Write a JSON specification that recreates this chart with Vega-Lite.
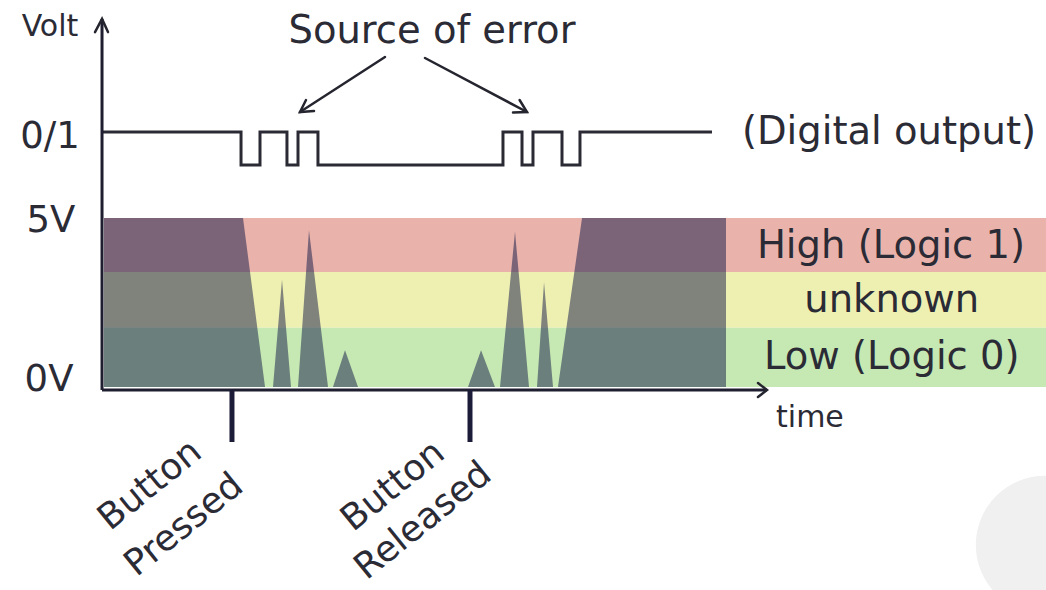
{
  "$schema": "https://vega.github.io/schema/vega-lite/v6.json",
  "width": 1046,
  "height": 590,
  "padding": 0,
  "autosize": {"type": "none"},
  "background": "#ffffff",
  "config": {"view": {"stroke": null}},
  "datasets": {
    "circle": [{"t": 151.6, "v": -4.67}],
    "bands": [
      {"zone": "high", "t": -0.16, "t2": 152, "v": 3.4, "v2": 5.0},
      {"zone": "unknown", "t": -0.16, "t2": 152, "v": 1.75, "v2": 3.4},
      {"zone": "low", "t": -0.16, "t2": 152, "v": 0, "v2": 1.75}
    ],
    "analog": [
      {"t": -0.16, "v": 5},
      {"t": 22.26, "v": 5},
      {"t": 25.81, "v": 0},
      {"t": 27.10, "v": 0},
      {"t": 28.55, "v": 3.17},
      {"t": 30.0, "v": 0},
      {"t": 31.13, "v": 0},
      {"t": 32.90, "v": 4.64},
      {"t": 35.97, "v": 0},
      {"t": 36.77, "v": 0},
      {"t": 38.71, "v": 1.09},
      {"t": 40.81, "v": 0},
      {"t": 58.55, "v": 0},
      {"t": 60.65, "v": 1.09},
      {"t": 62.90, "v": 0},
      {"t": 63.71, "v": 0},
      {"t": 66.13, "v": 4.59},
      {"t": 68.39, "v": 0},
      {"t": 69.68, "v": 0},
      {"t": 70.81, "v": 3.10},
      {"t": 72.26, "v": 0},
      {"t": 73.06, "v": 0},
      {"t": 76.94, "v": 5},
      {"t": 100.16, "v": 5}
    ],
    "digital": [
      {"t": -0.32, "v": 7.544},
      {"t": 21.94, "v": 6.568},
      {"t": 25.0, "v": 7.544},
      {"t": 29.35, "v": 6.568},
      {"t": 31.13, "v": 7.544},
      {"t": 34.35, "v": 6.568},
      {"t": 64.19, "v": 7.544},
      {"t": 67.26, "v": 6.568},
      {"t": 69.03, "v": 7.544},
      {"t": 73.71, "v": 6.568},
      {"t": 76.61, "v": 7.544},
      {"t": 97.90, "v": 7.544}
    ],
    "axes": [
      {"t": -0.48, "t2": -0.48, "v": -0.09, "v2": 10.89},
      {"t": -0.48, "t2": 106.77, "v": -0.09, "v2": -0.09}
    ],
    "ticks": [
      {"t": 20.48, "t2": 20.48, "v": -0.09, "v2": -1.627},
      {"t": 58.87, "t2": 58.87, "v": -0.09, "v2": -1.627}
    ],
    "arrows": [
      {"id": "yaxis", "o": 1, "t": -1.61, "v": 10.50},
      {"id": "yaxis", "o": 2, "t": -0.48, "v": 10.89},
      {"id": "yaxis", "o": 3, "t": 0.48, "v": 10.50},
      {"id": "xaxis", "o": 1, "t": 105.32, "v": 0.118},
      {"id": "xaxis", "o": 2, "t": 106.77, "v": -0.09},
      {"id": "xaxis", "o": 3, "t": 105.32, "v": -0.296},
      {"id": "leftshaft", "o": 1, "t": 45.16, "v": 9.763},
      {"id": "leftshaft", "o": 2, "t": 31.45, "v": 8.136},
      {"id": "lefthead", "o": 1, "t": 33.71, "v": 8.166},
      {"id": "lefthead", "o": 2, "t": 31.45, "v": 8.136},
      {"id": "lefthead", "o": 3, "t": 32.42, "v": 8.491},
      {"id": "rightshaft", "o": 1, "t": 51.61, "v": 9.734},
      {"id": "rightshaft", "o": 2, "t": 68.06, "v": 8.136},
      {"id": "righthead", "o": 1, "t": 66.87, "v": 8.491},
      {"id": "righthead", "o": 2, "t": 68.06, "v": 8.136},
      {"id": "righthead", "o": 3, "t": 65.81, "v": 8.121}
    ],
    "axislabels": [
      {"label": "0/1", "t": -8.87, "v": 7.40},
      {"label": "5V", "t": -8.71, "v": 4.91},
      {"label": "0V", "t": -9.03, "v": 0.207}
    ],
    "smalllabels": [
      {"label": "Volt", "t": -8.87, "v": 10.65},
      {"label": "time", "t": 113.7, "v": -0.917}
    ],
    "biglabels": [
      {"label": "Source of error", "t": 52.74, "v": 10.53},
      {"label": "(Digital output)", "t": 126.45, "v": 7.544},
      {"label": "High (Logic 1)", "t": 126.77, "v": 4.17},
      {"label": "unknown", "t": 126.9, "v": 2.57},
      {"label": "Low (Logic 0)", "t": 126.9, "v": 0.888}
    ],
    "events": [
      {"label": "Button", "t": 7.26, "v": -2.90},
      {"label": "Pressed", "t": 12.74, "v": -4.08},
      {"label": "Button", "t": 46.45, "v": -2.93},
      {"label": "Released", "t": 51.3, "v": -3.96}
    ]
  },
  "encoding": {
    "x": {"field": "t", "type": "quantitative", "scale": {"domain": [-16.935, 151.774], "nice": false, "zero": false}, "axis": null},
    "y": {"field": "v", "type": "quantitative", "scale": {"domain": [-6.006, 11.45], "nice": false, "zero": false}, "axis": null}
  },
  "layer": [
    {
      "data": {"name": "circle"},
      "mark": {"type": "point", "filled": true, "size": 19100, "color": "#f0f0f0", "opacity": 1, "shape": "circle"}
    },
    {
      "data": {"name": "bands"},
      "mark": {"type": "rect"},
      "encoding": {
        "x2": {"field": "t2"},
        "y2": {"field": "v2"},
        "color": {"field": "zone", "type": "nominal", "scale": {"domain": ["high", "unknown", "low"], "range": ["#e9b3ab", "#eef0b2", "#c6e8b3"]}, "legend": null}
      }
    },
    {
      "data": {"name": "analog"},
      "mark": {"type": "area", "color": "#101545", "opacity": 0.5, "interpolate": "linear"},
      "encoding": {"y2": {"datum": 0}}
    },
    {
      "data": {"name": "digital"},
      "mark": {"type": "line", "interpolate": "step-after", "color": "#2a2a35", "strokeWidth": 3},
      "encoding": {}
    },
    {
      "data": {"name": "axes"},
      "mark": {"type": "rule", "color": "#1e1e30", "strokeWidth": 3},
      "encoding": {"x2": {"field": "t2"}, "y2": {"field": "v2"}}
    },
    {
      "data": {"name": "ticks"},
      "mark": {"type": "rule", "color": "#1c1c38", "strokeWidth": 5},
      "encoding": {"x2": {"field": "t2"}, "y2": {"field": "v2"}}
    },
    {
      "data": {"name": "arrows"},
      "mark": {"type": "line", "color": "#25252f", "strokeWidth": 2.5, "strokeCap": "round", "strokeJoin": "miter"},
      "encoding": {"detail": {"field": "id", "type": "nominal"}, "order": {"field": "o", "type": "quantitative"}}
    },
    {
      "data": {"name": "axislabels"},
      "mark": {"type": "text", "font": "DejaVu Sans", "fontSize": 37, "color": "#2b2b36", "align": "center", "baseline": "middle"},
      "encoding": {"text": {"field": "label"}}
    },
    {
      "data": {"name": "smalllabels"},
      "mark": {"type": "text", "font": "DejaVu Sans", "fontSize": 30, "color": "#2b2b36", "align": "center", "baseline": "middle"},
      "encoding": {"text": {"field": "label"}}
    },
    {
      "data": {"name": "biglabels"},
      "mark": {"type": "text", "font": "DejaVu Sans", "fontSize": 38.5, "color": "#2b2b36", "align": "center", "baseline": "middle"},
      "encoding": {"text": {"field": "label"}}
    },
    {
      "data": {"name": "events"},
      "mark": {"type": "text", "font": "DejaVu Sans", "fontSize": 36, "color": "#2b2b36", "align": "center", "baseline": "middle", "angle": 321},
      "encoding": {"text": {"field": "label"}}
    }
  ]
}
